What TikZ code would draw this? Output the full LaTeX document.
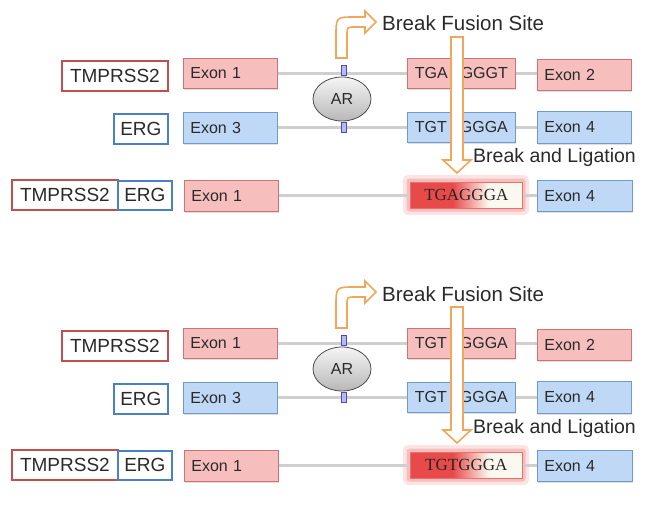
\documentclass[tikz,border=0pt]{standalone}
\usepackage{fontspec}
\setmainfont{Liberation Sans}
\newfontfamily\seqserif{Liberation Serif}
\usetikzlibrary{shapes.geometric,shadows}
\definecolor{exr}{HTML}{F7BEBE}
\definecolor{exrd}{HTML}{D07272}
\definecolor{exb}{HTML}{BED8F6}
\definecolor{exbd}{HTML}{6E9AD0}
\definecolor{labr}{HTML}{C24E4E}
\definecolor{labb}{HTML}{4A80C8}
\definecolor{txt}{HTML}{2A2A2A}
\definecolor{orng}{HTML}{F2A65A}
\definecolor{lgray}{HTML}{CFCFCF}
\definecolor{fusr}{HTML}{E84A4A}
\definecolor{fusw}{HTML}{FBF8EF}
\definecolor{arb}{HTML}{B8B8F2}
\definecolor{arbd}{HTML}{4A4AB8}
\pgfdeclarehorizontalshading{fusedshade}{100bp}{color(0bp)=(fusr); color(44bp)=(fusr); color(60bp)=(fusw); color(100bp)=(fusw)}
\begin{document}
\begin{tikzpicture}[x=1pt,y=-1pt,
  exbox/.style={rectangle, line width=0.8pt, inner xsep=7pt, inner ysep=0pt,
    align=left, anchor=north west, text=txt,
    font=\fontsize{16}{18}\selectfont,
    drop shadow={opacity=0.25, shadow xshift=1pt, shadow yshift=-1.2pt}},
  exred/.style={exbox, fill=exr, draw=exrd},
  exblue/.style={exbox, fill=exb, draw=exbd},
  seqbox/.style={exbox, align=center, inner xsep=0pt},
  labbox/.style={rectangle, fill=white, line width=1.8pt, inner sep=0pt,
    anchor=north west, text=txt, font=\fontsize{19}{22}\selectfont},
  labred/.style={labbox, draw=labr},
  labblue/.style={labbox, draw=labb},
  gline/.style={draw=lgray, line width=2.5pt},
  hollow/.style={draw=orng, fill=white, line width=1.6pt, line join=miter},
  title/.style={anchor=base west, text=txt, inner sep=0pt},
  site/.style={rectangle, draw=arbd, fill=arb, line width=0.6pt,
    minimum width=5pt, minimum height=10pt, inner sep=0pt},
]
\useasboundingbox (0,0) rectangle (647,513);
\foreach \o/\s/\pa/\pb/\fu in {0/a/TGA/GGGT/TGAGGGA, 270/b/TGT/GGGA/TGTGGGA}{
\begin{scope}[shift={(0,\o)}]
  % row 1
  \node[labred, minimum width=106pt, minimum height=30pt] (tm\s) at (61,60) {TMPRSS2};
  \node[exred, text width=80pt, minimum height=30pt] (ea\s) at (183,58) {Exon 1};
  \node[seqbox, fill=exr, draw=exrd, text width=108pt, minimum height=30pt] (sa\s) at (407,58) {\pa\hspace{13pt}\pb};
  \node[exred, text width=80pt, minimum height=31pt] (eb\s) at (537,59) {Exon 2};
  % row 2
  \node[labblue, minimum width=54pt, minimum height=30pt] (erg\s) at (113,113) {ERG};
  \node[exblue, text width=80pt, minimum height=31pt] (ec\s) at (183,112) {Exon 3};
  \node[seqbox, fill=exb, draw=exbd, text width=108pt, minimum height=30pt] (sb\s) at (407,112) {TGT\hspace{13pt}GGGA};
  \node[exblue, text width=80pt, minimum height=32pt] (ed\s) at (537,111) {Exon 4};
  % row 3
  \node[labred, minimum width=106pt, minimum height=30pt] (ftm\s) at (11,179) {TMPRSS2};
  \node[labblue, minimum width=54pt, minimum height=29pt] (ferg\s) at (117,180) {ERG};
  \node[exred, text width=80pt, minimum height=31pt] (fe\s) at (184,180) {Exon 1};
  \node[exblue, text width=81pt, minimum height=31pt] (fd\s) at (537,180) {Exon 4};
  % glow + fused box
  \fill[fusr, opacity=0.15, rounded corners=5pt] (403,175) rectangle (529,215);
  \fill[fusr, opacity=0.25, rounded corners=3pt] (406.5,178.5) rectangle (525.5,211.5);
  \node[rectangle, anchor=north west, shading=fusedshade, draw=fusr!80, line width=0.6pt,
    minimum width=112pt, minimum height=26pt, inner sep=0pt, text=black!85,
    font=\seqserif\fontsize{17}{18}\selectfont] (fu\s) at (410,182) {\fu};
  % connecting lines
  \draw[gline] (ea\s.east) -- (sa\s.west);
  \draw[gline] (sa\s.east) -- (eb\s.west |- sa\s.east);
  \draw[gline] (ec\s.east |- sb\s.west) -- (sb\s.west);
  \draw[gline] (sb\s.east) -- (ed\s.west |- sb\s.east);
  \draw[gline] (fe\s.east |- fu\s.west) -- (fu\s.west);
  \draw[gline] (fu\s.east) -- (fd\s.west |- fu\s.east);
  % AR and sites
  \node[site] (s1\s) at (343.5,70) {};
  \node[site] (s2\s) at (343.5,127) {};
  \node[ellipse, draw=black!70, line width=0.8pt, top color=black!4, bottom color=black!28,
    minimum width=58pt, minimum height=44pt, inner sep=0pt, text=txt,
    font=\fontsize{16}{18}\selectfont] (ar\s) at (342,99) {AR};
  % bent arrow
  \draw[hollow] (336,58) -- (336,36) .. controls (336,17) .. (355,17) -- (365,17) -- (365,11)
    -- (376,22) -- (365,33) -- (365,27) -- (355,27) .. controls (347,27) .. (347,35) -- (347,58) -- cycle;
  \node[title, font=\fontsize{20.5}{24}\selectfont] (bfs\s) at (382,31) {Break Fusion Site};
  % vertical arrow
  \draw[hollow] (451,37) -- (463,37) -- (463,160) -- (471,160) -- (457,173) -- (443,160) -- (451,160) -- cycle;
  \node[title, font=\fontsize{19.5}{23}\selectfont] (bl\s) at (473,163) {Break and Ligation};
\end{scope}
}
\end{tikzpicture}
\end{document}
